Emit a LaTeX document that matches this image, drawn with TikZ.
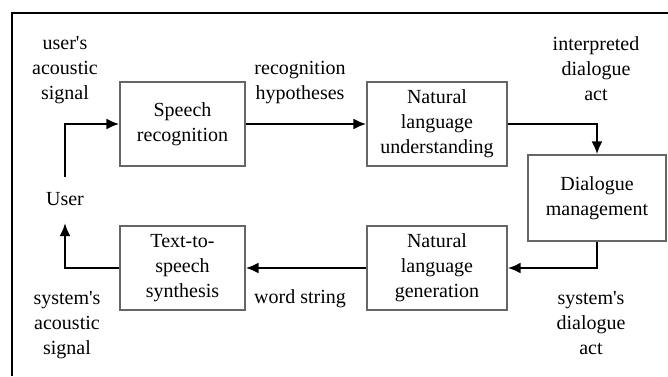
\documentclass[tikz,border=0pt]{standalone}
\usepackage{fontspec}
\setmainfont{Liberation Serif}[Ligatures=TeXOff]
\usetikzlibrary{arrows.meta}
\begin{document}
\begin{tikzpicture}[x=1pt,y=-1pt,
  box/.style={draw=black!60,line width=1.2pt,align=center,inner sep=0pt,font=\fontsize{20}{25}\selectfont},
  lbl/.style={align=center,inner sep=0pt,font=\fontsize{20}{25}\selectfont},
  flow/.style={line width=2.6pt,-{Latex[length=13pt,width=11pt]}}]
\useasboundingbox (0,0) rectangle (668,376);
\draw[line width=1.8pt] (12,376) -- (12,13) -- (668,13);
\node[box,minimum width=125pt,minimum height=84pt] (sr) at (182.5,124) {Speech\\recognition};
\node[box,minimum width=140pt,minimum height=84pt] (nlu) at (437,124) {Natural\\language\\understanding};
\node[box,minimum width=138pt,minimum height=86pt] (dm) at (597,198) {Dialogue\\management};
\node[box,minimum width=140pt,minimum height=84pt] (nlg) at (437,268) {Natural\\language\\generation};
\node[box,minimum width=125pt,minimum height=84pt] (tts) at (182.5,268) {Text-to-\\speech\\synthesis};
\node[lbl] (user) at (65,199) {User};
\coordinate (ub) at (65,177);
\coordinate (ut) at (65,223);
\node[lbl] (l1) at (65,70) {user's\\acoustic\\signal};
\node[lbl] (l2) at (300,83) {recognition\\hypotheses};
\node[lbl] (l3) at (596,69) {interpreted\\dialogue\\act};
\node[lbl] (l4) at (591,323) {system's\\dialogue\\act};
\node[lbl] (l5) at (67,325) {system's\\acoustic\\signal};
\node[lbl] (l6) at (300,299) {word string};
\draw[flow] (ub) |- (sr.west);
\draw[flow] (sr.east) -- (nlu.west);
\draw[flow] (nlu.east) -| (dm.north);
\draw[flow] (dm.south) |- (nlg.east);
\draw[flow] (nlg.west) -- (tts.east);
\draw[flow] (tts.west) -| (ut);
\end{tikzpicture}
\end{document}
